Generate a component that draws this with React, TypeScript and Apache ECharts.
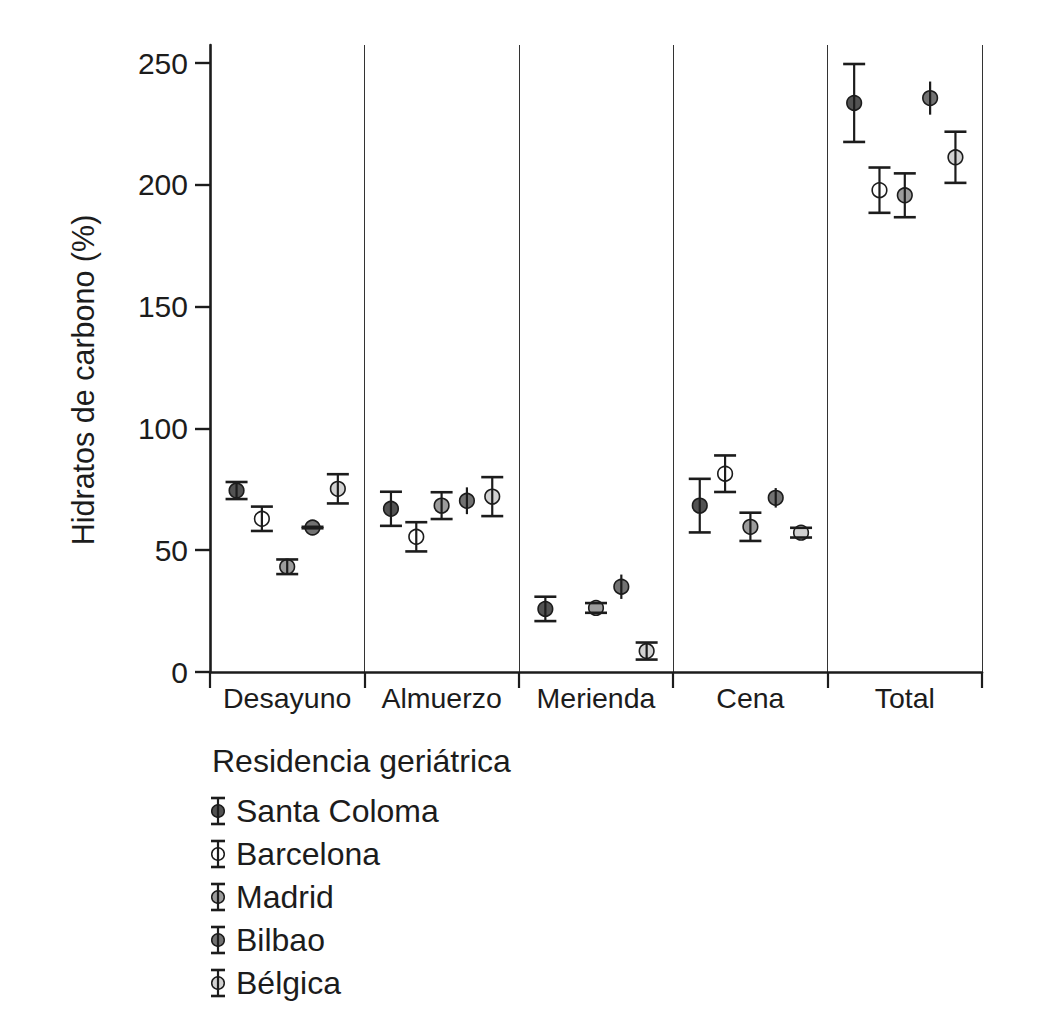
import React, { useEffect, useRef } from "react";
import * as echarts from "echarts";

const categories = ["Desayuno", "Almuerzo", "Merienda", "Cena", "Total"];
const seriesNames = ["Santa Coloma", "Barcelona", "Madrid", "Bilbao", "Bélgica"];
const yTicks = [0, 50, 100, 150, 200, 250];

const santaColomaMean = [74.5, 67, 25.9, 68.3, 233.6];
const santaColomaErr = [3.5, 7, 5, 11, 16];
const barcelonaMean = [62.9, 55.5, null, 81.4, 197.8];
const barcelonaErr = [5, 6, null, 7.5, 9.3];
const madridMean = [43.2, 68.3, 26.3, 59.6, 195.7];
const madridErr = [3, 5.5, 2, 5.8, 9];
const bilbaoMean = [59.3, 70.3, 35, 71.5, 235.6];
const bilbaoErr = [0.3, 5.5, 5, 4, 6.8];
const belgicaMean = [75.2, 72, 8.6, 57.2, 211.3];
const belgicaErr = [6, 8, 3.5, 2, 10.5];

const means = [santaColomaMean, barcelonaMean, madridMean, bilbaoMean, belgicaMean];
const errs = [santaColomaErr, barcelonaErr, madridErr, bilbaoErr, belgicaErr];

const fills = ["#525252", "#ffffff", "#9c9c9c", "#727272", "#d2d2d2"];
const showCaps = [true, true, true, false, true];

const FONT = "'Liberation Sans', Arial, Helvetica, sans-serif";
const INK = "#1c1c1c";
const R = 7.3;
const CAP = 11;

function makeSeries(si: number) {
  const data: any[] = [];
  means[si].forEach((m, ci) => {
    if (m !== null && m !== undefined) data.push([ci, m, errs[si][ci] as number]);
  });
  return {
    type: "custom",
    name: seriesNames[si],
    data,
    z: 3,
    renderItem: (params: any, api: any) => {
      const ci = api.value(0);
      const m = api.value(1);
      const e = api.value(2);
      const band = api.size([1, 0])[0];
      const c = api.coord([ci, m]);
      const x = c[0] + (si - 2) * band * 0.164;
      const y = c[1];
      const yTop = api.coord([ci, m + e])[1];
      const yBot = api.coord([ci, m - e])[1];
      const children: any[] = [
        {
          type: "circle",
          shape: { cx: x, cy: y, r: R },
          style: { fill: fills[si], stroke: INK, lineWidth: 1.6 },
        },
      ];
      const tiny = y - yTop < R;
      if (!tiny) {
        children.push({
          type: "line",
          shape: { x1: x, y1: yTop, x2: x, y2: yBot },
          style: { stroke: INK, lineWidth: 2.2 },
        });
      }
      if (showCaps[si] || tiny) {
        children.push(
          {
            type: "line",
            shape: { x1: x - CAP, y1: yTop, x2: x + CAP, y2: yTop },
            style: { stroke: INK, lineWidth: 2.6 },
          },
          {
            type: "line",
            shape: { x1: x - CAP, y1: yBot, x2: x + CAP, y2: yBot },
            style: { stroke: INK, lineWidth: 2.6 },
          }
        );
      }
      return { type: "group", children };
    },
  };
}

function legendGraphics() {
  const els: any[] = [
    {
      type: "text",
      left: 212,
      top: 745,
      style: { text: "Residencia geriátrica", font: `32px ${FONT}`, fill: INK },
    },
  ];
  seriesNames.forEach((name, i) => {
    const cy = 811 + i * 43;
    const cx = 218;
    els.push({
      type: "group",
      children: [
        {
          type: "circle",
          shape: { cx, cy, r: 6.3 },
          style: { fill: fills[i], stroke: INK, lineWidth: 1.5 },
        },
        {
          type: "line",
          shape: { x1: cx, y1: cy - 13, x2: cx, y2: cy + 13 },
          style: { stroke: INK, lineWidth: 2.2 },
        },
        {
          type: "line",
          shape: { x1: cx - 7, y1: cy - 13, x2: cx + 7, y2: cy - 13 },
          style: { stroke: INK, lineWidth: 2.6 },
        },
        {
          type: "line",
          shape: { x1: cx - 7, y1: cy + 13, x2: cx + 7, y2: cy + 13 },
          style: { stroke: INK, lineWidth: 2.6 },
        },
        {
          type: "text",
          x: 236,
          y: cy,
          style: {
            text: name,
            font: `32px ${FONT}`,
            fill: INK,
            textVerticalAlign: "middle",
            verticalAlign: "middle",
          },
        },
      ],
    });
  });
  els.push({
    type: "text",
    x: 83,
    y: 380,
    rotation: Math.PI / 2,
    style: {
      text: "Hidratos de carbono (%)",
      font: `30.5px ${FONT}`,
      fill: INK,
      align: "center",
      verticalAlign: "middle",
      textAlign: "center",
      textVerticalAlign: "middle",
    },
  });
  return els;
}

export default function App() {
  const ref = useRef<HTMLDivElement>(null);
  useEffect(() => {
    if (!ref.current) return;
    const chart = echarts.init(ref.current, null, { renderer: "svg" });
    chart.setOption({
      animation: false,
      backgroundColor: "#ffffff",
      textStyle: { fontFamily: FONT },
      grid: { left: 210, right: 72, top: 45, bottom: 353 },
      xAxis: {
        type: "category",
        data: categories,
        boundaryGap: true,
        axisLine: { lineStyle: { color: INK, width: 2.6 } },
        axisTick: { show: true, interval: 0, length: 16, lineStyle: { color: INK, width: 2.2 } },
        axisLabel: { interval: 0, fontSize: 28.5, color: INK, margin: 11, fontFamily: FONT },
        splitLine: { show: true, interval: 0, lineStyle: { color: "#333333", width: 1 } },
      },
      yAxis: {
        type: "value",
        min: 0,
        max: 257.4,
        axisLine: { show: true, lineStyle: { color: INK, width: 2.6 } },
        axisTick: {
          show: true,
          length: 15,
          customValues: yTicks,
          lineStyle: { color: INK, width: 2.4 },
        },
        axisLabel: {
          fontSize: 30,
          color: INK,
          margin: 22,
          customValues: yTicks,
          fontFamily: FONT,
        },
        splitLine: { show: false },
      },
      series: seriesNames.map((_, i) => makeSeries(i)),
      graphic: legendGraphics(),
    });
    return () => chart.dispose();
  }, []);
  return (
    <div
      ref={ref}
      style={{ position: "fixed", left: 0, top: 0, width: 1054, height: 1025, background: "#fff" }}
    />
  );
}
